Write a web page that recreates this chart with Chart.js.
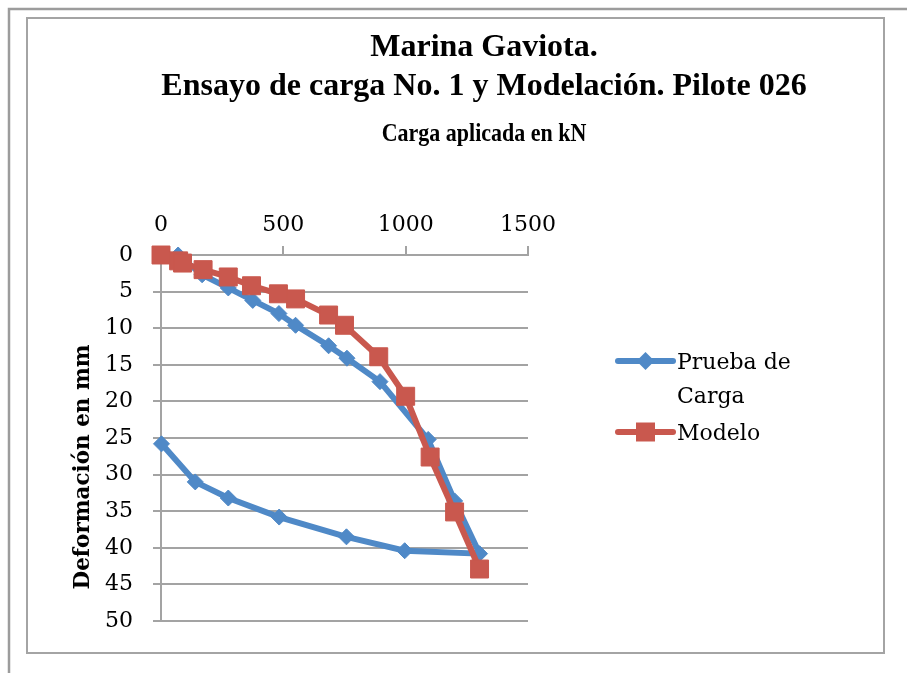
<!DOCTYPE html>
<html>
<head>
<meta charset="utf-8">
<script src="https://cdn.jsdelivr.net/npm/chart.js@4/dist/chart.umd.min.js"></script>
<style>
  html, body { margin: 0; padding: 0; background: #ffffff; }
  #wrap { position: absolute; left: 0; top: 0; width: 907px; height: 673px; }
</style>
</head>
<body>
<div id="wrap"><canvas id="c" width="907" height="673"></canvas></div>
<script>
// ---- data ----
const titleLines = ['Marina Gaviota.', 'Ensayo de carga No. 1 y Modelación. Pilote 026'];
const xAxisTitle = 'Carga aplicada en kN';
const yAxisTitle = 'Deformación en mm';
const seriesNames = ['Prueba de Carga', 'Modelo'];
const legendLines = [['Prueba de', 'Carga'], ['Modelo']];

// load (kN) ticks and deformation (mm) ticks
const loadTicks = [0, 500, 1000, 1500];
const defTicks = [0, 5, 10, 15, 20, 25, 30, 35, 40, 45, 50];

// Prueba de Carga (load test)
const pruebaCarga = [70, 168, 275, 375, 482, 550, 685, 760, 895, 1092, 1200, 1302, 996, 758, 483, 275, 140, 2];
const pruebaDef   = [0, 2.7, 4.5, 6.2, 8.0, 9.6, 12.4, 14.1, 17.3, 25.2, 33.6, 40.8, 40.4, 38.5, 35.8, 33.2, 31.0, 25.8];

// Modelo (model)
const modeloCarga = [0, 72, 88, 172, 275, 370, 480, 550, 685, 750, 890, 1000, 1100, 1200, 1302];
const modeloDef   = [0, 0.8, 1.1, 2.0, 3.0, 4.2, 5.3, 6.0, 8.2, 9.6, 13.9, 19.3, 27.6, 35.1, 42.9];

const blue = '#4F89C7';
const red = '#C9584E';
const gridGray = '#a3a3a3';

function pts(xs, ys) { return xs.map((x, i) => ({ x: x, y: ys[i] })); }

const framePlugin = {
  id: 'frame',
  beforeDraw(chart) {
    const ctx = chart.ctx;
    ctx.save();
    ctx.fillStyle = '#ffffff';
    ctx.fillRect(0, 0, chart.width, chart.height);
    ctx.strokeStyle = '#9c9c9c';
    ctx.lineWidth = 2.5;
    ctx.beginPath();
    ctx.moveTo(9, 673); ctx.lineTo(9, 9); ctx.lineTo(907, 9);
    ctx.stroke();
    ctx.strokeStyle = '#a4a4a4';
    ctx.lineWidth = 2;
    ctx.strokeRect(27, 18, 857, 635);
    ctx.restore();
  }
};

const textPlugin = {
  id: 'texts',
  afterDraw(chart) {
    const ctx = chart.ctx;
    const ca = chart.chartArea;
    ctx.save();
    ctx.fillStyle = '#000000';
    ctx.textAlign = 'center';
    ctx.textBaseline = 'alphabetic';
    ctx.font = 'bold 32px "Liberation Serif"';
    ctx.fillText(titleLines[0], 484, 56);
    ctx.fillText(titleLines[1], 484, 95);

    ctx.save();
    ctx.translate(484, 141);
    ctx.scale(0.88, 1);
    ctx.font = 'bold 25px "Liberation Serif"';
    ctx.fillText(xAxisTitle, 0, 0);
    ctx.restore();

    ctx.save();
    ctx.translate(89, 467);
    ctx.rotate(-Math.PI / 2);
    ctx.font = 'bold 21.5px "DejaVu Serif"';
    ctx.textAlign = 'center';
    ctx.fillText(yAxisTitle, 0, 0);
    ctx.restore();

    // legend
    const lx0 = ca.right + 90, lx1 = ca.right + 145, mx = (lx0 + lx1) / 2, tx = lx1 + 4;
    const rows = [361, 432];
    const cols = [blue, red];
    ctx.lineCap = 'round';
    for (let i = 0; i < 2; i++) {
      const y = rows[i];
      ctx.strokeStyle = cols[i];
      ctx.lineWidth = 6;
      ctx.beginPath(); ctx.moveTo(lx0, y); ctx.lineTo(lx1, y); ctx.stroke();
      ctx.fillStyle = cols[i];
      ctx.beginPath();
      if (i === 0) {
        ctx.moveTo(mx - 9, y); ctx.lineTo(mx, y - 9); ctx.lineTo(mx + 9, y); ctx.lineTo(mx, y + 9);
      } else {
        ctx.rect(mx - 9.5, y - 9.5, 19, 19);
      }
      ctx.closePath(); ctx.fill();
      ctx.fillStyle = '#000000';
      ctx.font = '22px "DejaVu Serif"';
      ctx.textAlign = 'left';
      ctx.textBaseline = 'middle';
      legendLines[i].forEach((t, k) => ctx.fillText(t, tx, y + 2 + k * 34));
    }
    ctx.restore();
  }
};

new Chart(document.getElementById('c'), {
  type: 'scatter',
  data: {
    datasets: [
      {
        label: seriesNames[0],
        data: pts(pruebaCarga, pruebaDef),
        showLine: true,
        borderColor: blue,
        backgroundColor: blue,
        borderWidth: 6,
        pointStyle: 'rectRot',
        pointRadius: 8,
        pointBorderWidth: 1,
        pointBackgroundColor: blue,
        pointBorderColor: blue,
        clip: false,
        order: 2
      },
      {
        label: seriesNames[1],
        data: pts(modeloCarga, modeloDef),
        showLine: true,
        borderColor: red,
        backgroundColor: red,
        borderWidth: 6,
        pointStyle: 'rect',
        pointRadius: 12.7,
        pointBorderWidth: 1,
        pointBackgroundColor: red,
        pointBorderColor: red,
        clip: false,
        order: 1
      }
    ]
  },
  options: {
    responsive: false,
    animation: false,
    devicePixelRatio: 1,
    layout: { padding: { left: 0, top: 0, right: 907 - 528, bottom: 52 } },
    plugins: {
      legend: { display: false },
      title: { display: false },
      tooltip: { enabled: false }
    },
    scales: {
      x: {
        type: 'linear',
        position: 'top',
        min: loadTicks[0],
        max: loadTicks[loadTicks.length - 1],
        afterBuildTicks: (s) => { s.ticks = loadTicks.map(v => ({ value: v })); },
        afterFit: (s) => { s.height = 255; },
        grid: { drawOnChartArea: false, drawTicks: true, tickLength: 9, color: gridGray, lineWidth: 2 },
        border: { display: true, color: gridGray, width: 2 },
        ticks: { color: '#000', padding: 8, font: { family: '"DejaVu Serif"', size: 22 }, maxRotation: 0,
                 callback: (v) => String(v) }
      },
      y: {
        type: 'linear',
        position: 'left',
        reverse: true,
        min: defTicks[0],
        max: defTicks[defTicks.length - 1],
        afterBuildTicks: (s) => { s.ticks = defTicks.map(v => ({ value: v })); },
        afterFit: (s) => { s.width = 161; },
        grid: { drawOnChartArea: true, drawTicks: true, tickLength: 8, color: gridGray, lineWidth: 2 },
        border: { display: true, color: gridGray, width: 2 },
        ticks: { color: '#000', padding: 20, font: { family: '"DejaVu Serif"', size: 22 },
                 callback: (v) => String(v) }
      }
    }
  },
  plugins: [framePlugin, textPlugin]
});
</script>
</body>
</html>
